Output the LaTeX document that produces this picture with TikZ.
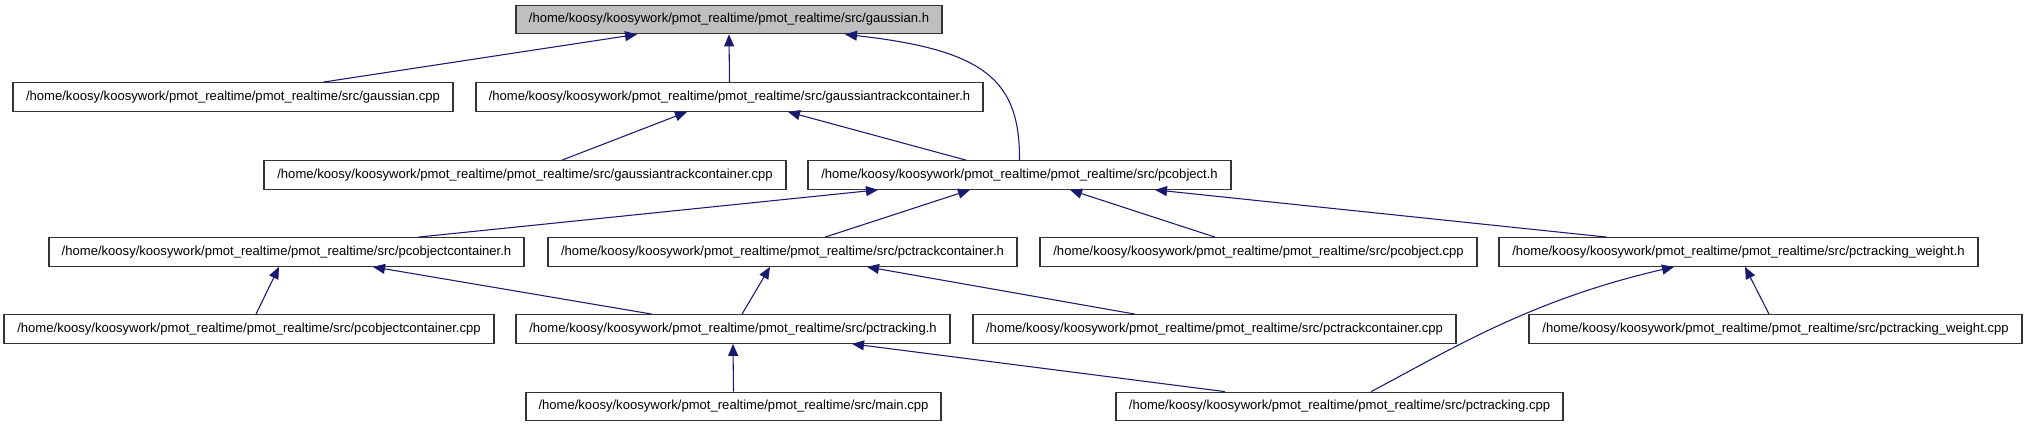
\documentclass[tikz,border=0pt]{standalone}
\usepackage{fontspec}
\setmainfont{Liberation Sans}
\usetikzlibrary{arrows.meta,calc}
\definecolor{edgeblue}{HTML}{191970}
\definecolor{hlgray}{HTML}{BFBFBF}
\newcommand{\pmotpath}[1]{/home/koosy/koosywork/pmot\_realtime/pmot\_realtime/src/#1}
\begin{document}
\begin{tikzpicture}[x=0.75pt,y=-0.75pt,
  filebox/.style={draw=black!80, fill=white, line width=0.9pt, inner sep=0pt,
    minimum height=21.4pt, font=\fontsize{9.8}{11}\selectfont},
  bw/.style={minimum width=#1*0.75pt},
  edge/.style={draw=edgeblue, line width=0.8pt, -{Triangle[length=9pt,width=7.5pt]}}]
\useasboundingbox (0,0) rectangle (2027,427);

% row 1
\node[filebox, fill=hlgray, bw=426] (gh) at (729,19.5) {\pmotpath{gaussian.h}};
% row 2
\node[filebox, bw=440] (gcpp) at (233,97) {\pmotpath{gaussian.cpp}};
\node[filebox, bw=507] (gtch) at (729.5,97) {\pmotpath{gaussiantrackcontainer.h}};
% row 3
\node[filebox, bw=522] (gtccpp) at (525,175) {\pmotpath{gaussiantrackcontainer.cpp}};
\node[filebox, bw=423] (pch) at (1019.5,175) {\pmotpath{pcobject.h}};
% row 4
\node[filebox, bw=475] (pcoch) at (286.5,252) {\pmotpath{pcobjectcontainer.h}};
\node[filebox, bw=469] (pctch) at (782.5,252) {\pmotpath{pctrackcontainer.h}};
\node[filebox, bw=437] (pccpp) at (1258.5,252) {\pmotpath{pcobject.cpp}};
\node[filebox, bw=479] (pctwh) at (1738.5,252) {\pmotpath{pctracking\_weight.h}};
% row 5
\node[filebox, bw=490] (pcoccpp) at (249,329) {\pmotpath{pcobjectcontainer.cpp}};
\node[filebox, bw=434] (pcth) at (733,329) {\pmotpath{pctracking.h}};
\node[filebox, bw=483] (pctccpp) at (1214.5,329) {\pmotpath{pctrackcontainer.cpp}};
\node[filebox, bw=493] (pctwcpp) at (1775.5,329) {\pmotpath{pctracking\_weight.cpp}};
% row 6
\node[filebox, bw=415] (maincpp) at (733.5,406.5) {\pmotpath{main.cpp}};
\node[filebox, bw=447] (pctcpp) at (1339.5,406.5) {\pmotpath{pctracking.cpp}};

% edges (child -> included parent)
\draw[edge] ($(gcpp.north)+(90,0)$) -- ($(gh.south)+(-92,0)$);
\draw[edge] (gtch.north) -- (gh.south);
\draw[edge] (pch.north) .. controls (1020,80) and (985,50) .. ($(gh.south)+(116,0)$);
\draw[edge] ($(gtccpp.north)+(37,0)$) -- ($(gtch.south)+(-42.5,0)$);
\draw[edge] ($(pch.north)+(-53.5,0)$) -- ($(gtch.south)+(58.5,0)$);
\draw[edge] ($(pcoch.north)+(131.5,0)$) -- ($(pch.south)+(-141.5,0)$);
\draw[edge] ($(pctch.north)+(42.5,0)$) -- ($(pch.south)+(-49.5,0)$);
\draw[edge] ($(pccpp.north)+(-43.5,0)$) -- ($(pch.south)+(50.5,0)$);
\draw[edge] ($(pctwh.north)+(-131.5,0)$) -- ($(pch.south)+(135.5,0)$);
\draw[edge] ($(pcoccpp.north)+(7,0)$) -- ($(pcoch.south)+(-7.5,0)$);
\draw[edge] ($(pcth.north)+(-81,0)$) -- ($(pcoch.south)+(86.5,0)$);
\draw[edge] ($(pcth.north)+(9,0)$) -- ($(pctch.south)+(-12.5,0)$);
\draw[edge] ($(pctccpp.north)+(-79.5,0)$) -- ($(pctch.south)+(84.5,0)$);
\draw[edge] ($(pctwcpp.north)+(-6.5,0)$) -- ($(pctwh.south)+(6.5,0)$);
\draw[edge] (maincpp.north) -- (pcth.south);
\draw[edge] ($(pctcpp.north)+(-114.5,0)$) -- ($(pcth.south)+(119,0)$);
\draw[edge] ($(pctcpp.north)+(31.5,0)$) .. controls (1450,350) and (1530,300) .. ($(pctwh.south)+(-64.5,0)$);
\end{tikzpicture}
\end{document}
